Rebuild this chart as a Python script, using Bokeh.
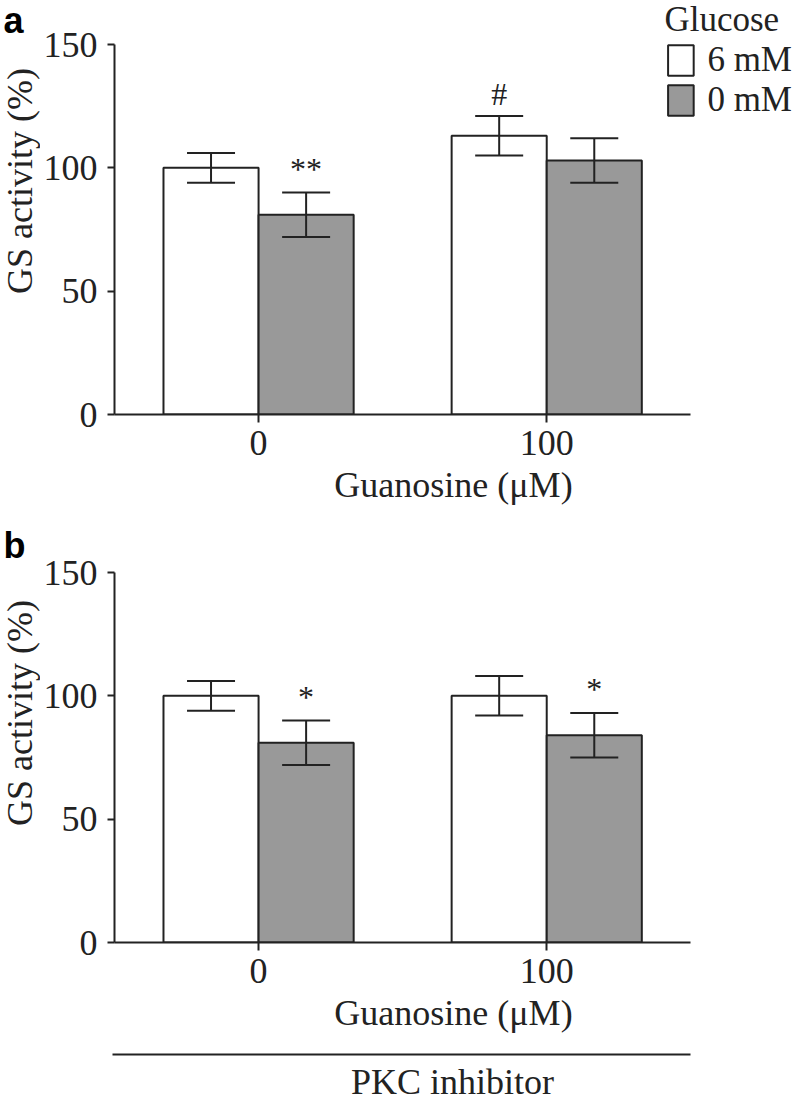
import math
from bokeh.plotting import figure
from bokeh.layouts import column, row
from bokeh.models import (ColumnDataSource, Range1d, FixedTicker, Whisker,
                          TeeHead, Legend, LegendItem)
from bokeh.core.properties import value
from bokeh.embed import file_html
from bokeh.resources import INLINE

# ---------------- data ----------------
groups = ["0", "100"]                 # Guanosine (uM)
glucose_levels = ["6 mM", "0 mM"]
y_ticks = [0, 50, 100, 150]

a_6mM = [100, 113]
a_6mM_err = [6, 8]
a_0mM = [81, 103]
a_0mM_err = [9, 9]
a_6mM_sig = ["", "#"]
a_0mM_sig = ["**", ""]

b_6mM = [100, 100]
b_6mM_err = [6, 8]
b_0mM = [81, 84]
b_0mM_err = [9, 9]
b_6mM_sig = ["", ""]
b_0mM_sig = ["*", "*"]

# ---------------- style ----------------
SERIF = "Liberation Serif"
SANS = "Liberation Sans"
INK = "#222222"
GRAY = "#999999"
FS = "36px"
TFS = "36px"
W = 792
STRIP = 40
LEFT = 112                      # frame left edge on the page
PX_X = 289.0                    # pixels per group
PX_Y = 370.0 / 150.0            # pixels per %
BAR_W = 0.33
X_END = -0.5 + (W - LEFT) / PX_X
# symbol -> (font size, gap in px between error cap and text baseline)
SIG_STYLE = {"*": ("32px", 24), "#": ("32px", 22), "": ("32px", 0)}


def style_axis(ax):
    ax.axis_line_color = INK
    ax.axis_line_width = 2
    ax.major_tick_line_color = INK
    ax.major_tick_line_width = 2
    ax.minor_tick_line_color = None
    ax.major_tick_in = 0
    ax.major_label_text_font = SERIF
    ax.major_label_text_font_size = FS
    ax.major_label_text_color = INK
    ax.axis_label_text_font = SERIF
    ax.axis_label_text_font_size = TFS
    ax.axis_label_text_font_style = "normal"
    ax.axis_label_text_color = INK


def side_strip(letter, height, frame_h, letter_base):
    s = figure(width=STRIP, height=height, output_backend="svg", toolbar_location=None,
               x_range=Range1d(0, STRIP), y_range=Range1d(height, 0),
               x_axis_type=None, y_axis_type=None, min_border=0)
    s.grid.visible = False
    s.outline_line_color = None
    s.text(x=[3], y=[letter_base], text=[letter], text_font=value(SANS),
           text_font_style="bold", text_font_size="36px", text_color="black",
           text_baseline="alphabetic", text_align="left")
    s.text(x=[19], y=[frame_h - (max(y_ticks) - min(y_ticks)) * PX_Y / 2],
           text=["GS activity (%)"], angle=math.pi / 2, text_font=value(SERIF),
           text_font_size=TFS, text_color=INK, text_align="center",
           text_baseline="alphabetic")
    return s


def panel(height, border_bottom, s6, e6, s0, e0, sig6, sig0):
    frame_h = height - border_bottom
    p = figure(width=W - STRIP, height=height, output_backend="svg", toolbar_location=None,
               x_range=Range1d(-0.5, X_END), y_range=Range1d(0, frame_h / PX_Y),
               min_border_left=LEFT - STRIP, min_border_right=0, min_border_top=0,
               min_border_bottom=border_bottom)
    p.grid.visible = False
    p.outline_line_color = None
    p.background_fill_color = "white"

    xs = list(range(len(groups)))
    renderers = []
    for offset, vals, errs, sigs, fill in ((-BAR_W / 2, s6, e6, sig6, "white"),
                                            (BAR_W / 2, s0, e0, sig0, GRAY)):
        upper = [v + e for v, e in zip(vals, errs)]
        src = ColumnDataSource(dict(
            x=[x + offset for x in xs],
            top=vals,
            upper=upper,
            lower=[v - e for v, e in zip(vals, errs)],
            sig=sigs,
            fs=[SIG_STYLE[s[:1]][0] for s in sigs],
            ty=[u + SIG_STYLE[s[:1]][1] / PX_Y for u, s in zip(upper, sigs)],
        ))
        r = p.vbar(x="x", top="top", bottom=0, width=BAR_W, source=src,
                   fill_color=fill, line_color=INK, line_width=2)
        renderers.append(r)
        wh = Whisker(base="x", upper="upper", lower="lower", source=src,
                     line_color=INK, line_width=2, level="overlay",
                     upper_head=TeeHead(size=48, line_color=INK, line_width=2),
                     lower_head=TeeHead(size=48, line_color=INK, line_width=2))
        p.add_layout(wh)
        p.text(x="x", y="ty", text="sig", source=src, text_font=value(SERIF),
               text_font_size="fs", text_align="center",
               text_baseline="alphabetic", text_color=INK)

    xa = p.xaxis[0]
    style_axis(xa)
    xa.bounds = (-0.5, len(groups) - 0.5)
    xa.ticker = FixedTicker(ticks=xs, minor_ticks=[])
    xa.major_label_overrides = {x: g for x, g in zip(xs, groups)}
    xa.major_tick_out = 8
    xa.major_label_standoff = 8
    xa.axis_label = "Guanosine (μM)"
    xa.axis_label_standoff = 7

    ya = p.yaxis[0]
    style_axis(ya)
    ya.bounds = (min(y_ticks), max(y_ticks))
    ya.ticker = FixedTicker(ticks=y_ticks, minor_ticks=[])
    ya.major_tick_out = 7
    ya.major_label_standoff = 10
    return p, renderers, frame_h


HA, BA = 525, 111
HB, BB = 516, 99
HC, BC = 63, 49

pa, (ra6, ra0), fha = panel(HA, BA, a_6mM, a_6mM_err, a_0mM, a_0mM_err, a_6mM_sig, a_0mM_sig)
legend = Legend(items=[LegendItem(label=glucose_levels[0], renderers=[ra6]),
                       LegendItem(label=glucose_levels[1], renderers=[ra0])],
                title="Glucose", location="top_right",
                title_text_font=SERIF, title_text_font_size="35px", title_text_font_style="normal",
                title_text_color=INK, title_standoff=-3,
                label_text_font=SERIF, label_text_font_size="35px", label_text_color=INK,
                glyph_width=32, glyph_height=38, label_standoff=11, spacing=-2,
                padding=0, margin=0, border_line_color=None, background_fill_alpha=0)
pa.add_layout(legend)
sa = side_strip("a", HA, fha, 25)

pb, _, fhb = panel(HB, BB, b_6mM, b_6mM_err, b_0mM, b_0mM_err, b_6mM_sig, b_0mM_sig)
sb = side_strip("b", HB, fhb, 25)

# PKC inhibitor bracket below panel b
pc = figure(width=W, height=HC, output_backend="svg", toolbar_location=None,
            x_range=Range1d(-0.5, X_END), y_range=Range1d(0, 1), y_axis_type=None,
            min_border_left=LEFT, min_border_right=0, min_border_top=0, min_border_bottom=BC)
pc.grid.visible = False
pc.outline_line_color = None
xc = pc.xaxis[0]
style_axis(xc)
xc.ticker = FixedTicker(ticks=[], minor_ticks=[])
xc.major_tick_line_color = None
xc.major_tick_out = 0
xc.major_label_standoff = 0
xc.bounds = (-0.515, len(groups) - 0.5)
xc.axis_label = "PKC inhibitor"
xc.axis_label_standoff = 7

layout = column(row(sa, pa, spacing=0), row(sb, pb, spacing=0), pc, spacing=0)
open("out.html", "w").write(file_html(layout, INLINE))
